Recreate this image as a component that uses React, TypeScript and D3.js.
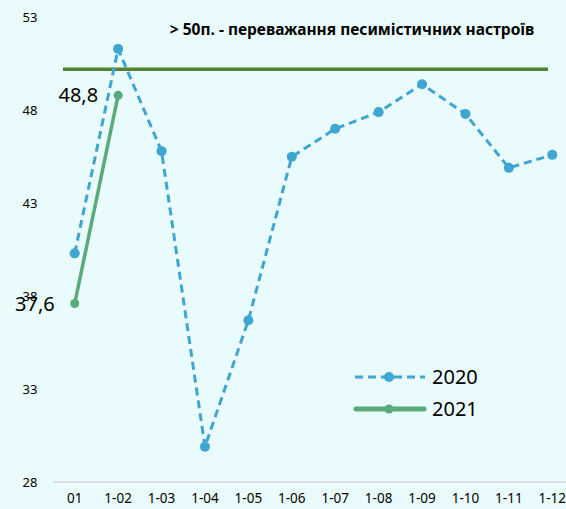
import { useEffect, useRef } from "react";
import * as d3 from "d3";

// chart data
const months = ["01", "1-02", "1-03", "1-04", "1-05", "1-06", "1-07", "1-08", "1-09", "1-10", "1-11", "1-12"];
const values2020 = [40.3, 51.3, 45.8, 29.9, 36.7, 45.5, 47.0, 47.9, 49.4, 47.8, 44.9, 45.6];
const values2021 = [37.6, 48.8];
const labels2021 = ["37,6", "48,8"];
const yTicks = [28, 33, 38, 43, 48, 53];
const threshold = 50.2;
const thresholdNote = "> 50п. - переважання песимістичних настроїв";

const W = 566;
const H = 509;
const FONT = "'Noto Sans', sans-serif";

export default function App() {
    const ref = useRef<SVGSVGElement>(null);

    useEffect(() => {
        const svg = d3.select(ref.current);
        svg.selectAll("*").remove();

        const x = d3.scaleBand().domain(months).range([53, 574]);
        const y = d3.scaleLinear().domain([28, 53]).range([482, 17.3]);
        const cx = (m: string) => (x(m) ?? 0) + x.bandwidth() / 2;

        svg.append("rect").attr("width", W).attr("height", H).attr("fill", "#e9fbfd");

        // y labels
        svg.append("g").selectAll("text").data(yTicks).join("text")
            .attr("x", 30).attr("y", d => y(d)).attr("dy", "0.35em")
            .attr("text-anchor", "middle").attr("font-family", FONT).attr("font-size", 13)
            .attr("fill", "#000").text(d => d);

        // x axis line
        svg.append("line").attr("x1", 53).attr("x2", W).attr("y1", y(28)).attr("y2", y(28))
            .attr("stroke", "#d9d9d9").attr("stroke-width", 1.5);

        svg.append("g").selectAll("text").data(months).join("text")
            .attr("x", d => cx(d)).attr("y", 503)
            .attr("text-anchor", "middle").attr("font-family", FONT).attr("font-size", 13.5)
            .attr("fill", "#000").text(d => d);

        // threshold line
        svg.append("line").attr("x1", 63).attr("x2", 548).attr("y1", y(threshold)).attr("y2", y(threshold))
            .attr("stroke", "#548235").attr("stroke-width", 3.5);

        svg.append("text").attr("x", 352).attr("y", 35).attr("text-anchor", "middle")
            .attr("font-family", FONT).attr("font-size", 15.5).attr("font-weight", "bold")
            .attr("fill", "#000").text(thresholdNote);

        const line = d3.line<number>().x((_, i) => cx(months[i])).y(d => y(d));

        // 2020
        svg.append("path").datum(values2020).attr("d", line).attr("fill", "none")
            .attr("stroke", "#3fa5d3").attr("stroke-width", 3).attr("stroke-dasharray", "8,5");
        svg.append("g").selectAll("circle").data(values2020).join("circle")
            .attr("cx", (_, i) => cx(months[i])).attr("cy", d => y(d)).attr("r", 5)
            .attr("fill", "#3fa5d3");

        // 2021
        svg.append("path").datum(values2021).attr("d", line).attr("fill", "none")
            .attr("stroke", "#5aab7b").attr("stroke-width", 3.5);
        svg.append("g").selectAll("circle").data(values2021).join("circle")
            .attr("cx", (_, i) => cx(months[i])).attr("cy", d => y(d)).attr("r", 4.5)
            .attr("fill", "#5aab7b");

        svg.append("g").selectAll("text").data(labels2021).join("text")
            .attr("x", (_, i) => cx(months[i]) - 20).attr("y", (_, i) => y(values2021[i]))
            .attr("dy", "0.35em").attr("text-anchor", "end")
            .attr("font-family", FONT).attr("font-size", 20).attr("fill", "#000")
            .text(d => d);

        // legend
        const lg = svg.append("g");
        lg.append("line").attr("x1", 355).attr("x2", 425).attr("y1", 377).attr("y2", 377)
            .attr("stroke", "#3fa5d3").attr("stroke-width", 3).attr("stroke-dasharray", "8,5");
        lg.append("circle").attr("cx", 389).attr("cy", 377).attr("r", 5).attr("fill", "#3fa5d3");
        lg.append("text").attr("x", 432).attr("y", 377).attr("dy", "0.35em")
            .attr("font-family", FONT).attr("font-size", 20).attr("fill", "#000").text("2020");
        lg.append("line").attr("x1", 356).attr("x2", 424).attr("y1", 409).attr("y2", 409)
            .attr("stroke", "#5aab7b").attr("stroke-width", 5).attr("stroke-linecap", "round");
        lg.append("circle").attr("cx", 389).attr("cy", 409).attr("r", 4.5).attr("fill", "#5aab7b");
        lg.append("text").attr("x", 432).attr("y", 409).attr("dy", "0.35em")
            .attr("font-family", FONT).attr("font-size", 20).attr("fill", "#000").text("2021");
    }, []);

    return (
        <svg ref={ref} width={W} height={H}
            style={{ position: "absolute", left: 0, top: 0, display: "block" }} />
    );
}
